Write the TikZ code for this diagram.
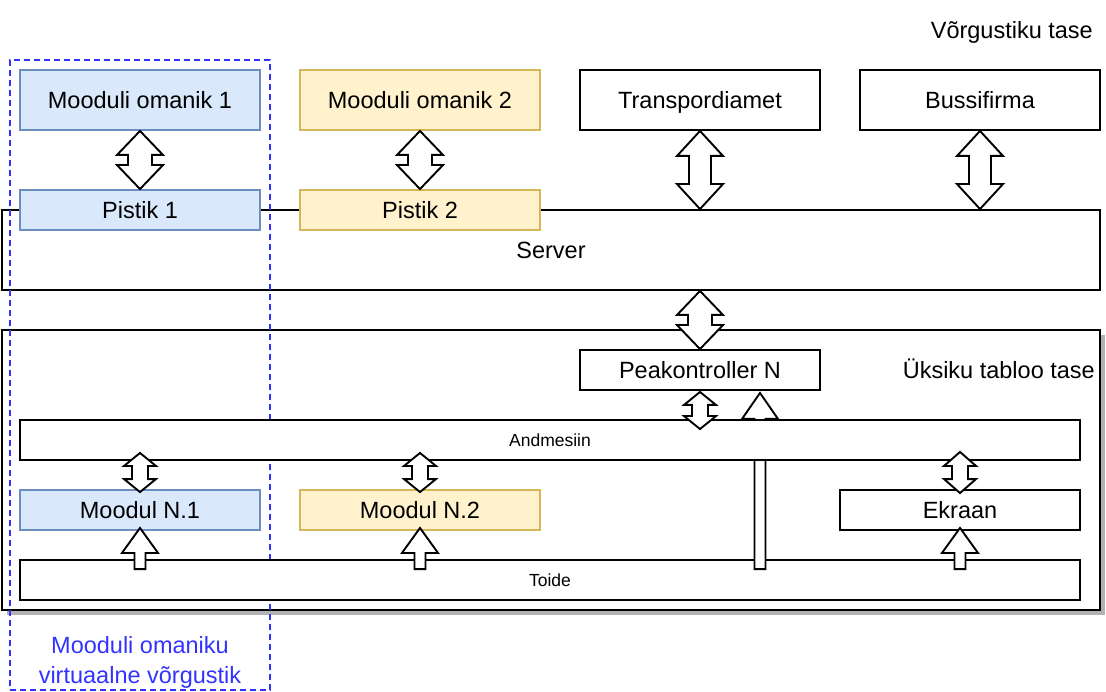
\documentclass[tikz,border=0pt]{standalone}
\usepackage{fontspec}
\setmainfont{Liberation Sans}
\usetikzlibrary{calc,shadows}
\definecolor{bluefill}{HTML}{DAE8FC}
\definecolor{bluedraw}{HTML}{6C8EBF}
\definecolor{yelfill}{HTML}{FFF2CC}
\definecolor{yeldraw}{HTML}{D6B656}
\definecolor{vnblue}{HTML}{3333FF}
\newcommand\bigf{\fontsize{23.5}{30}\selectfont}
\newcommand\smallf{\fontsize{17.5}{21}\selectfont}
% vertical double block arrow: top tip #1, bottom tip #2, head half width #3, shaft half width #4, head length #5
\newcommand\mkdbl[5]{\draw[barrow] let \p1=#1, \p2=#2 in
 (\x1,\y1) -- (\x1+#3pt,\y1-#5pt) -- (\x1+#4pt,\y1-#5pt) -- (\x1+#4pt,\y2+#5pt) -- (\x1+#3pt,\y2+#5pt) -- (\x1,\y2)
 -- (\x1-#3pt,\y2+#5pt) -- (\x1-#4pt,\y2+#5pt) -- (\x1-#4pt,\y1-#5pt) -- (\x1-#3pt,\y1-#5pt) -- cycle;}
% upward block arrow: tip #1, base #2
\newcommand\mkup[5]{\draw[barrow] let \p1=#1, \p2=#2 in
 (\x1,\y1) -- (\x1+#3pt,\y1-#5pt) -- (\x1+#4pt,\y1-#5pt) -- (\x1+#4pt,\y2) -- (\x1-#4pt,\y2)
 -- (\x1-#4pt,\y1-#5pt) -- (\x1-#3pt,\y1-#5pt) -- cycle;}
\tikzset{
  box/.style={draw=black, fill=white, line width=1.9pt, minimum width=240pt, minimum height=60pt,
    inner sep=0pt, font=\bigf, text height=16.8pt, text depth=0pt},
  bluebox/.style={draw=bluedraw, fill=bluefill},
  yelbox/.style={draw=yeldraw, fill=yelfill},
  bar/.style={box, minimum width=1060pt, minimum height=40pt, font=\smallf, text height=12.5pt},
  barrow/.style={draw=black, fill=white, line width=1.9pt, line join=miter},
  label/.style={inner sep=0pt, font=\bigf, text height=16.8pt, text depth=0pt},
  vnframe/.style={draw=vnblue, line width=1.9pt, dash pattern=on 6pt off 4pt, inner sep=0pt,
    minimum width=260pt, minimum height=630pt},
}
\begin{document}
\begin{tikzpicture}[x=1pt,y=-1pt]
\useasboundingbox (0,0) rectangle (1106,692);
% network level
\node[box, minimum width=1098pt, minimum height=80pt] (server) at (551,250) {Server};
\node[box, bluebox, minimum height=40pt] (pis1) at (140,210) {Pistik 1};
\node[box, yelbox, minimum height=40pt] (pis2) at (420,210) {Pistik 2};
\node[box, bluebox] (om1) at (140,100) {Mooduli omanik 1};
\node[box, yelbox] (om2) at (420,100) {Mooduli omanik 2};
\node[box] (trans) at (700,100) {Transpordiamet};
\node[box] (buss) at (980,100) {Bussifirma};
\node[label, anchor=east] (vtase) at (1093,30) {Võrgustiku tase};
% single board level
\node[box, minimum width=1098pt, minimum height=280pt,
  drop shadow={shadow xshift=5pt, shadow yshift=-5pt, fill=black!30, opacity=1}] (tablo) at (551,470) {};
\node[vnframe] (vn) at (140,375) {};
\node[box, minimum height=40pt] (peak) at (700,370) {Peakontroller N};
\node[label, anchor=east] (utase) at (1095,370) {Üksiku tabloo tase};
\node[bar] (toide) at (550,580) {Toide};
\coordinate (pw) at ($(peak.south)+(60,0)$);
\mkup{($(pw)+(0,2)$)}{($(pw |- toide.north)+(0,10)$)}{18}{5.5}{26}
\node[bar] (and) at (550,440) {Andmesiin};
\node[box, bluebox, minimum height=40pt] (m1) at (140,510) {Moodul N.1};
\node[box, yelbox, minimum height=40pt] (m2) at (420,510) {Moodul N.2};
\node[box, minimum height=40pt] (ekr) at (960,510) {Ekraan};
\node[label, align=center, text=vnblue] (vntext) at (140,675) {Mooduli omaniku\\virtuaalne võrgustik};
% big double arrows
\mkdbl{(om1.south)}{(pis1.north)}{23}{12}{24}
\mkdbl{(om2.south)}{(pis2.north)}{23}{12}{24}
\mkdbl{(trans.south)}{(trans.south |- server.north)}{23}{11}{25}
\mkdbl{(buss.south)}{(buss.south |- server.north)}{23}{11}{25}
\mkdbl{(peak.north |- server.south)}{(peak.north)}{23}{12}{24}
% small double arrows
\mkdbl{($(peak.south)+(0,1)$)}{($(peak.south |- and.north)+(0,10)$)}{16}{8}{13}
\mkdbl{($(m1.north |- and.south)+(0,-8)$)}{($(m1.north)+(0,3)$)}{16}{8}{13}
\mkdbl{($(m2.north |- and.south)+(0,-8)$)}{($(m2.north)+(0,3)$)}{16}{8}{13}
\mkdbl{($(ekr.north |- and.south)+(0,-9)$)}{($(ekr.north)+(0,4)$)}{16}{8}{14}
% power arrows
\mkup{($(m1.south)+(0,-3)$)}{($(m1.south |- toide.north)+(0,10)$)}{18}{5.5}{25}
\mkup{($(m2.south)+(0,-3)$)}{($(m2.south |- toide.north)+(0,10)$)}{18}{5.5}{25}
\mkup{($(ekr.south)+(0,-3)$)}{($(ekr.south |- toide.north)+(0,10)$)}{18}{5.5}{25}
\end{tikzpicture}
\end{document}
